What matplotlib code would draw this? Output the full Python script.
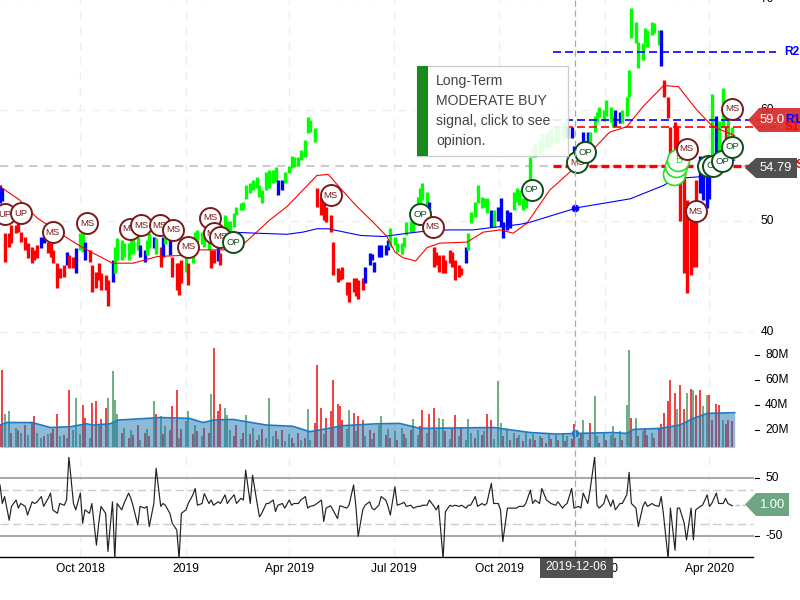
"""Stock chart with price bars, volume and a lower oscillator panel."""
import matplotlib
matplotlib.use('Agg')
import matplotlib.pyplot as plt
from matplotlib.patches import Polygon, Rectangle
import pandas as pd

plt.rcParams['font.family'] = ['Liberation Sans', 'DejaVu Sans']

START = pd.Timestamp('2018-07-23')
PX_PER_DAY = 1.148

# Price bars, one per two trading days
price_low = [
    51.6, 51.8, 46.3, 47.7, 48.0, 48.9, 49.0, 48.1, 47.4, 46.7,
    46.2, 46.5, 46.7, 47.6, 48.0, 47.1, 46.8, 46.2, 44.0, 44.9,
    45.0, 46.0, 45.8, 45.8, 45.3, 47.4, 47.2, 46.5, 46.3, 43.6,
    44.0, 44.7, 43.8, 43.8, 42.3, 44.5, 45.3, 46.5, 46.5, 46.8,
    46.5, 47.1, 47.0, 47.4, 46.8, 46.3, 46.9, 47.6, 47.6, 47.0,
    45.9, 46.8, 47.9, 46.9, 45.0, 43.8, 43.3, 44.4, 45.4, 44.2,
    46.2, 47.8, 48.0, 47.9, 47.7, 47.4, 45.8, 46.2, 46.4, 46.0,
    49.0, 48.8, 49.0, 49.5, 50.5, 51.0, 51.0, 52.0, 52.5, 52.8,
    53.0, 52.2, 51.6, 52.8, 53.0, 53.4, 53.5, 52.3, 52.8, 53.4,
    54.3, 54.8, 54.9, 55.0, 55.5, 55.8, 57.9, 58.0, 57.1, 51.3,
    50.5, 50.1, 49.9, 49.0, 45.1, 44.5, 44.7, 44.8, 43.3, 42.7,
    43.6, 43.2, 43.0, 43.8, 44.4, 46.0, 46.5, 45.4, 46.8, 46.8,
    46.9, 47.4, 47.7, 47.8, 47.2, 47.0, 47.7, 48.7, 49.0, 49.0,
    50.7, 51.3, 51.9, 51.4, 50.4, 45.9, 46.0, 45.4, 45.3, 45.3,
    46.2, 45.9, 44.7, 45.0, 45.1, 46.2, 47.4, 49.8, 50.4, 51.6,
    51.2, 51.3, 50.7, 49.5, 49.5, 50.0, 49.5, 48.5, 49.2, 49.4,
    51.0, 51.7, 51.4, 51.0, 51.2, 53.7, 55.8, 55.8, 56.0, 56.4,
    56.6, 56.6, 56.8, 57.1, 57.0, 57.3, 57.6, 57.5, 57.5, 55.5,
    55.5, 55.5, 56.4, 56.6, 56.4, 58.0, 58.9, 59.4, 59.0, 59.5,
    58.9, 58.5, 58.6, 58.8, 58.8, 59.5, 61.2, 66.5, 66.0, 63.8,
    64.5, 66.0, 65.7, 66.8, 66.9, 65.9, 64.0, 61.2, 59.3, 54.9,
    54.6, 54.9, 50.0, 45.3, 43.5, 45.1, 45.9, 45.9, 52.5, 51.9,
    51.2, 52.0, 55.5, 55.2, 56.0, 58.5, 56.7, 57.3, 57.0,
]
price_high = [
    53.2, 53.0, 48.9, 48.9, 49.6, 49.6, 50.0, 49.0, 48.6, 48.0,
    47.7, 47.4, 47.8, 48.6, 48.6, 48.1, 48.0, 47.4, 46.2, 45.8,
    46.0, 47.2, 46.9, 46.8, 47.6, 48.9, 48.9, 48.1, 47.4, 46.0,
    45.4, 46.2, 45.3, 45.1, 44.7, 46.5, 47.7, 48.5, 48.3, 48.0,
    48.0, 48.3, 48.5, 48.7, 47.8, 47.4, 48.3, 48.9, 48.6, 48.5,
    47.7, 48.6, 49.0, 48.5, 46.8, 46.2, 46.2, 46.5, 46.8, 46.2,
    47.6, 49.0, 49.2, 49.0, 49.2, 48.3, 47.4, 47.4, 47.8, 47.1,
    50.5, 50.0, 50.0, 50.7, 51.3, 51.6, 51.7, 53.2, 53.4, 53.7,
    54.0, 53.2, 52.8, 54.4, 54.6, 54.6, 54.9, 53.7, 53.7, 54.4,
    55.0, 55.9, 55.8, 55.8, 56.4, 57.3, 59.4, 59.1, 58.4, 53.0,
    52.2, 51.6, 51.3, 50.5, 48.1, 45.8, 45.6, 45.9, 44.5, 44.5,
    44.9, 44.9, 44.7, 44.9, 45.9, 47.1, 47.0, 46.3, 47.8, 47.8,
    47.8, 48.3, 49.4, 48.6, 48.0, 48.0, 48.6, 49.9, 50.0, 51.0,
    52.2, 53.0, 53.4, 52.6, 51.7, 47.7, 47.2, 46.9, 46.9, 46.5,
    47.4, 47.2, 46.5, 46.0, 45.8, 47.7, 48.9, 50.8, 51.7, 53.2,
    52.2, 52.1, 52.1, 51.0, 51.0, 51.3, 52.1, 49.9, 51.0, 50.8,
    52.6, 53.0, 52.8, 52.1, 52.3, 55.8, 56.7, 57.0, 57.3, 57.8,
    57.9, 58.2, 58.4, 58.6, 58.4, 58.8, 59.0, 58.6, 58.5, 56.8,
    57.0, 57.0, 58.0, 58.0, 58.0, 59.5, 59.8, 60.3, 60.0, 60.9,
    60.3, 59.5, 60.0, 59.8, 60.0, 61.2, 63.6, 69.2, 67.9, 66.1,
    66.0, 67.4, 67.2, 67.9, 67.8, 67.2, 67.2, 62.7, 61.2, 58.5,
    58.9, 58.6, 55.5, 54.9, 51.9, 51.0, 50.1, 53.7, 55.9, 55.2,
    54.9, 55.0, 61.4, 59.5, 59.0, 62.0, 58.5, 59.3, 58.5,
]
price_trend = (
    'bbrrrrrrrr' 'rrrbbrrrrr' 'rbrrbggbrr' 'rrrrrbgggg' 'ggggbbggbg'
    'rbgbrrrrgr' 'ggggggrrbr' 'gggggggggg' 'gggggggbbg' 'gggggggggr'
    'rrrrrrrrrr' 'rrrrbbbbbb' 'bbgggggggg' 'ggggbrrrrr' 'rrrrrbgggg'
    'gggbgbbbbb' 'gggggggggg' 'gggggggbbb' 'ggbbgggggg' 'ggbbgggggg'
    'ggggggbrrr' 'rrrrrrrrbb' 'bbgbggrgg'
)

# Moving averages, knots
ma_red_days = [0, 17, 32, 55, 72, 98, 116, 137, 159, 174, 198, 213, 235, 250,
               264, 276, 286, 296, 311, 325, 337, 344, 351, 362, 372, 383,
               407, 421, 436, 447, 459, 479, 505, 531, 546, 560, 578, 591,
               607, 621, 640]
ma_red = [53.1, 51.9, 50.3, 48.7, 47.6, 46.2, 46.2, 46.8, 46.9, 47.4, 47.4,
          48.0, 50.1, 51.3, 52.8, 54.1, 54.2, 53.0, 51.3, 49.9, 48.6, 47.2,
          46.7, 46.4, 47.6, 48.0, 48.1, 49.0, 49.2, 48.9, 49.8, 52.8, 55.2,
          58.0, 58.5, 60.3, 62.2, 62.1, 60.0, 58.5, 57.7]
ma_blue_days = [200, 224, 250, 264, 276, 286, 314, 334, 355, 372, 392, 412,
                436, 453, 462, 503, 549, 578, 586, 598, 612, 640]
ma_blue = [49.0, 48.9, 48.8, 49.0, 49.3, 49.3, 48.7, 48.6, 48.9, 49.1, 49.2,
           49.2, 49.5, 49.7, 49.9, 51.2, 52.0, 53.2, 53.7, 53.9, 54.0, 55.5]

# Signal circles, 'b' is a ring with no letter
signal_days = [4, 18, 46, 76, 113, 123, 139, 151, 164, 183, 186, 192, 203, 288,
               366, 377, 463, 503, 510, 587, 589, 591, 598, 606, 617, 621, 629,
               638, 638]
signal_price = [50.6, 50.7, 49.0, 49.8, 49.3, 49.6, 49.6, 49.2, 47.7, 50.3,
                48.9, 48.6, 48.1, 52.3, 50.6, 49.5, 52.8, 55.3, 56.2, 54.2,
                55.0, 55.5, 56.5, 50.9, 55.0, 55.0, 55.4, 60.1, 56.7]
signal_kind = ['UP', 'UP', 'MS', 'MS', 'MS', 'MS', 'MS', 'MS', 'MS', 'MS', 'MS',
               'MS', 'OP', 'MS', 'OP', 'MS', 'OP', 'MS*', 'OP', 'b', 'b', 'B',
               'MS', 'MS', 'OP', 'OP', 'OP', 'MS', 'OP']

# Volume in millions, one per two trading days
volume = [
    25, 68, 33, 35, 18, 22, 20, 18, 24, 16,
    26, 31, 18, 14, 15, 17, 18, 21, 33, 15,
    16, 14, 52, 20, 46, 17, 40, 30, 14, 42,
    43, 25, 29, 38, 46, 67, 44, 33, 18, 22,
    14, 20, 16, 24, 12, 18, 21, 15, 43, 33,
    31, 17, 23, 20, 39, 52, 14, 21, 27, 35,
    17, 24, 19, 15, 22, 18, 49, 86, 35, 41,
    38, 32, 20, 15, 24, 13, 18, 32, 17, 22,
    12, 16, 21, 14, 46, 15, 19, 13, 20, 11,
    17, 14, 10, 18, 12, 14, 37, 12, 26, 72,
    38, 17, 30, 35, 60, 41, 39, 28, 21, 36,
    34, 19, 31, 28, 15, 20, 13, 18, 24, 31,
    16, 21, 14, 19, 12, 22, 17, 14, 20, 29,
    16, 23, 36, 18, 33, 38, 20, 30, 29, 19,
    13, 21, 32, 15, 22, 12, 29, 18, 14, 20,
    16, 19, 33, 28, 13, 59, 26, 15, 20, 12,
    18, 14, 16, 11, 19, 13, 17, 12, 15, 14,
    10, 18, 13, 16, 12, 17, 11, 15, 13, 25,
    14, 18, 28, 12, 26, 47, 15, 10, 18, 12,
    16, 23, 14, 19, 12, 40, 84, 30, 30, 15,
    19, 22, 16, 18, 14, 21, 25, 34, 43, 60,
    50, 37, 56, 37, 50, 53, 52, 48, 52, 39,
    48, 48, 28, 41, 40, 28, 25, 28, 27,
]
volume_trend = (
    'rrggrgrgrg' 'rrggrgrrrg' 'rgrgggrrgr' 'rgrrggggrg' 'rgrrgrgrgr'
    'grgrrrgrgg' 'rgrgrrgrrr' 'gggrrgrgrg' 'rgrgggrgrg' 'grgrgrggrr'
    'rgrrrrrrgg' 'rgrrgrgrgg' 'rgrgrgrgrg' 'grrgrrgggr' 'grrgrgggrg'
    'rgrrgggrgr' 'grgrgrgrgr' 'rgrgrgrgrr' 'grggrggrgr' 'ggrgrggrgr'
    'grrgrrrrrr' 'rgrrgrgrrg' 'grrrrgrrr'
)
vol_avg_days = [0, 6, 28, 44, 62, 75, 81, 96, 103, 128, 139, 165, 177, 186,
                203, 232, 255, 270, 290, 299, 328, 348, 366, 430, 462, 485,
                503, 534, 546, 552, 575, 592, 604, 616, 640]
vol_avg = [24, 26, 26, 22, 22.7, 25, 24, 25, 28, 29.3, 30, 29.3, 26, 28, 28.5,
           24, 23, 18.7, 22, 23.5, 25, 25.3, 21.3, 22, 18, 16.8, 17.3, 18,
           17.3, 20.5, 21.3, 24, 29.3, 33.3, 33.9]

# Oscillator, one per two trading days
oscillator = [
    38, 6, 18, -23, 1, 12, -2, 6, 1, -14,
    9, 6, 8, 18, 1, 15, 24, -5, -11, 6,
    3, 12, 87, 6, -5, 24, -28, -5, -11, 6,
    -66, -28, 1, -11, -77, 9, -90, 6, -5, 6,
    24, 15, 1, -31, 1, -2, 1, -34, 6, 67,
    1, 6, 3, -11, -28, -40, -90, -11, -5, 6,
    21, 32, 3, 6, 23, 6, 12, 3, 9, 6,
    21, 6, 12, 21, 6, 15, 12, 64, 6, 55,
    6, -17, -11, 6, 6, 12, -8, 3, 6, -2,
    12, 3, 6, 6, 12, 18, -2, 1, 3, 6,
    12, -25, -2, 2, -5, -20, 2, 1, -2, 3,
    38, 1, -51, -5, 3, 9, -2, -5, 3, 18,
    12, 1, -14, 35, 3, 6, 8, 1, 3, -2,
    1, 1, 3, 3, 12, 1, -5, 3, -90, -8,
    3, 1, 3, 1, 3, -2, 3, 3, 18, 1,
    6, 3, 6, 41, 6, 6, -5, -60, -2, -2,
    -2, -2, 1, 1, 6, 29, 6, 12, 6, 32,
    12, 9, 6, 3, 9, -2, 3, 6, 32, -2,
    1, -2, 24, 6, 29, 87, 3, -2, 6, 21,
    1, 12, -5, 6, 6, 21, 60, 6, -2, -34,
    1, 9, 1, 6, 3, 1, 18, -14, -90, -2,
    -75, -2, -2, -28, -57, -2, -57, -5, 1, 3,
    21, 1, 6, 24, 6, 6, 15, 6, 2,
]

# Levels and axis labels
price_ticks = [70, 60, 50, 40]
volume_ticks = [20, 40, 60, 80]
osc_ticks = [50, -50]
close_level = 54.92
level_values = [65.2, 59.1, 58.47, 55.0]
level_names = ['R2', 'R1', 'S1', 'S2']
date_ticks = ['2018-10-01', '2019-01-01', '2019-04-01', '2019-07-01',
              '2019-10-01', '2020-01-01', '2020-04-01']
date_labels = ['Oct 2018', '2019', 'Apr 2019', 'Jul 2019', 'Oct 2019', '2020',
               'Apr 2020']
cursor_date = pd.Timestamp('2019-12-06')
cursor_price = 51.2
cursor_volume = 17.3
popup_lines = ['Long-Term', 'MODERATE BUY', 'signal, click to see', 'opinion.']

bar_dates = pd.bdate_range(START, periods=len(price_low), freq='2B')
BAR_COLORS = {'r': '#ff0000', 'g': '#00ff00', 'b': '#0000ff'}
VOL_COLORS = {'r': '#ee2020', 'g': '#55a070'}
PANEL_END = 753 / 800
FONT = 8.64
GRID = '#eeeeee'


def day(offsets):
    return [START + pd.Timedelta(days=d) for d in offsets]


def panel(top, bottom):
    ax = fig.add_axes([0, 1 - bottom / 600, 1, (bottom - top) / 600])
    ax.set_xlim(START, START + pd.Timedelta(days=800 / PX_PER_DAY))
    ax.patch.set_alpha(0)
    for side in ax.spines.values():
        side.set_visible(False)
    ax.set_yticks([])
    ax.set_xticks([])
    for d in date_ticks:
        ax.axvline(pd.Timestamp(d), color=GRID, lw=1, ls=(0, (6, 5)), zorder=0)
    return ax


fig = plt.figure(figsize=(8, 6), dpi=100)
price_ax = panel(0, 340)
vol_ax = panel(340, 447.3)
osc_ax = panel(456.7, 557)
price_ax.set_ylim(50 - 119 / 11.1, 50 + 221 / 11.1)
vol_ax.set_ylim(6.2, 92)
osc_ax.set_ylim(-86.6, 87)

# Price panel
for v in price_ticks:
    price_ax.axhline(v, xmax=PANEL_END, color=GRID, lw=1, ls=(0, (6, 5)), zorder=0)
    price_ax.text(767 / 800, v, str(v), transform=price_ax.get_yaxis_transform(),
                  ha='center', va='center', fontsize=FONT, clip_on=False)
price_ax.axhline(close_level, xmax=750 / 800, color='#cccccc', lw=1.5,
                 ls=(0, (4, 3)), zorder=1)
price_ax.vlines(bar_dates, price_low, price_high,
                colors=[BAR_COLORS[c] for c in price_trend], lw=2.4, zorder=2)
price_ax.plot(day(ma_red_days), ma_red, color='#ff0000', lw=0.8, zorder=3)
price_ax.plot(day(ma_blue_days), ma_blue, color='#0000ff', lw=0.8, zorder=3)
price_ax.plot([cursor_date], [cursor_price], 'o', color='#0000ff', ms=4.5, zorder=4)

level_start, level_end = day([482, 676])
level_colors = ['#0000ff', '#0000ff', '#ff0000', '#ff0000']
level_widths = [1.2, 1.2, 1.2, 2.4]
for v, c, w in zip(level_values, level_colors, level_widths):
    price_ax.plot([level_start, level_end], [v, v], color=c, lw=w,
                  ls=(0, (8 / w * 0.72, 4 / w * 0.72)), zorder=4)

for i, (d, p, kind) in enumerate(zip(day(signal_days), signal_price, signal_kind)):
    z = 5 + i * 0.01
    if kind in ('B', 'b'):
        price_ax.scatter([d], [p], s=250, facecolors='white', edgecolors='#22e022',
                         linewidths=1.2, zorder=z)
        if kind == 'B':
            price_ax.text(d, p, kind, color='#22e022', fontsize=7.5, ha='center',
                          va='center', zorder=z)
        continue
    edge = '#0f4d1a' if kind in ('OP', 'MS*') else '#7a1a1a'
    text_color = '#0f4d1a' if kind == 'OP' else '#7a1a1a'
    price_ax.scatter([d], [p], s=228, facecolors='white', edgecolors=edge,
                     linewidths=1.4, zorder=z)
    price_ax.text(d, p, kind.strip('*'), color=text_color, fontsize=6.8, ha='center',
                  va='center', zorder=z)

# Volume panel
vol_ax.vlines(bar_dates, 6.2, volume, colors=[VOL_COLORS[c] for c in volume_trend],
              lw=1.2, zorder=2)
vol_ax.fill_between(day(vol_avg_days), 6.2, vol_avg, color='#1f77b4', alpha=0.5,
                    lw=0, zorder=3)
vol_ax.plot(day(vol_avg_days), vol_avg, color='#1f78c1', lw=1.2, zorder=4)
vol_ax.plot([cursor_date], [cursor_volume], 'o', color='#1f78c1', ms=4.5, zorder=5)
vol_trans = vol_ax.get_yaxis_transform()
for v in volume_ticks:
    vol_ax.plot([755 / 800, 759 / 800], [v, v], color='black', lw=0.8, transform=vol_trans)
    vol_ax.text(765 / 800, v, f'{v}M', transform=vol_trans, va='center',
                fontsize=FONT)

# Oscillator panel
for v in (50, -50):
    osc_ax.axhline(v, xmax=PANEL_END, color='#aaaaaa', lw=1.5, zorder=1)
for v in (29, -29):
    osc_ax.axhline(v, xmax=PANEL_END, color='#cccccc', lw=1, ls=(0, (6, 3)), zorder=1)
osc_ax.plot(bar_dates, oscillator, color='#222222', lw=0.85, zorder=3)
osc_trans = osc_ax.get_yaxis_transform()
for v in osc_ticks:
    osc_ax.plot([755 / 800, 759 / 800], [v, v], color='black', lw=0.8, transform=osc_trans)
    osc_ax.text(765 / 800, v, str(v), transform=osc_trans, va='center', fontsize=FONT)
osc_ax.set_xticks(pd.to_datetime(date_ticks))
osc_ax.set_xticklabels(date_labels, fontsize=FONT)
osc_ax.tick_params(axis='x', length=0, pad=4)

# Overlay in pixels: popup, tags, axis line and crosshair
ov = fig.add_axes([0, 0, 1, 1], zorder=10)
ov.set_xlim(0, 800)
ov.set_ylim(600, 0)
ov.axis('off')
cursor_px = (cursor_date - START).days * PX_PER_DAY
ov.plot([cursor_px, cursor_px], [0, 557], color='#a8a8a8', lw=0.9, ls=(0, (5, 3)))
ov.plot([0, 753], [557, 557], color='black', lw=1)

ov.add_patch(Rectangle((417, 66), 151, 90, facecolor='white', edgecolor='#c8c8c8',
                       lw=1, alpha=0.9))
ov.add_patch(Rectangle((417, 66), 11, 90, facecolor='#1a8a1f', edgecolor='none'))
for i, line in enumerate(popup_lines):
    ov.text(436, 81 + 20 * i, line, fontsize=10.1, color='#444444', va='center')


def tag(top, bottom, left, right, color, label, text_x, alpha=1.0):
    mid = (top + bottom) / 2
    pts = [(left, mid), (left + 11, top), (right, top), (right, bottom), (left + 11, bottom)]
    ov.add_patch(Polygon(pts, facecolor=color, edgecolor='none', alpha=alpha))
    ov.text(text_x, mid, label, color='white', fontsize=9.4, ha='center', va='center')


tag(108, 132, 748, 800, '#d93030', '59.0', 772, alpha=0.95)
tag(158, 178, 745, 797, '#505050', '54.79', 776)
tag(493, 516, 745, 789, '#6ea583', '1.00', 772)
ov.plot([735, 745], [505, 505], color='#bbbbbb', lw=1, ls=(0, (3, 2)))

for name, x, y, c in zip(level_names, [784, 785, 785, 796], [52, 120, 127, 165],
                         level_colors):
    ov.text(x, y, name, color=c, fontsize=FONT, fontweight='bold', va='center')

ov.add_patch(Rectangle((540, 557), 73, 21, facecolor='#505050', edgecolor='none'))
ov.text(576.5, 567, cursor_date.strftime('%Y-%m-%d'), color='white', fontsize=FONT,
        ha='center', va='center')

fig.savefig('out.png', dpi=100)
